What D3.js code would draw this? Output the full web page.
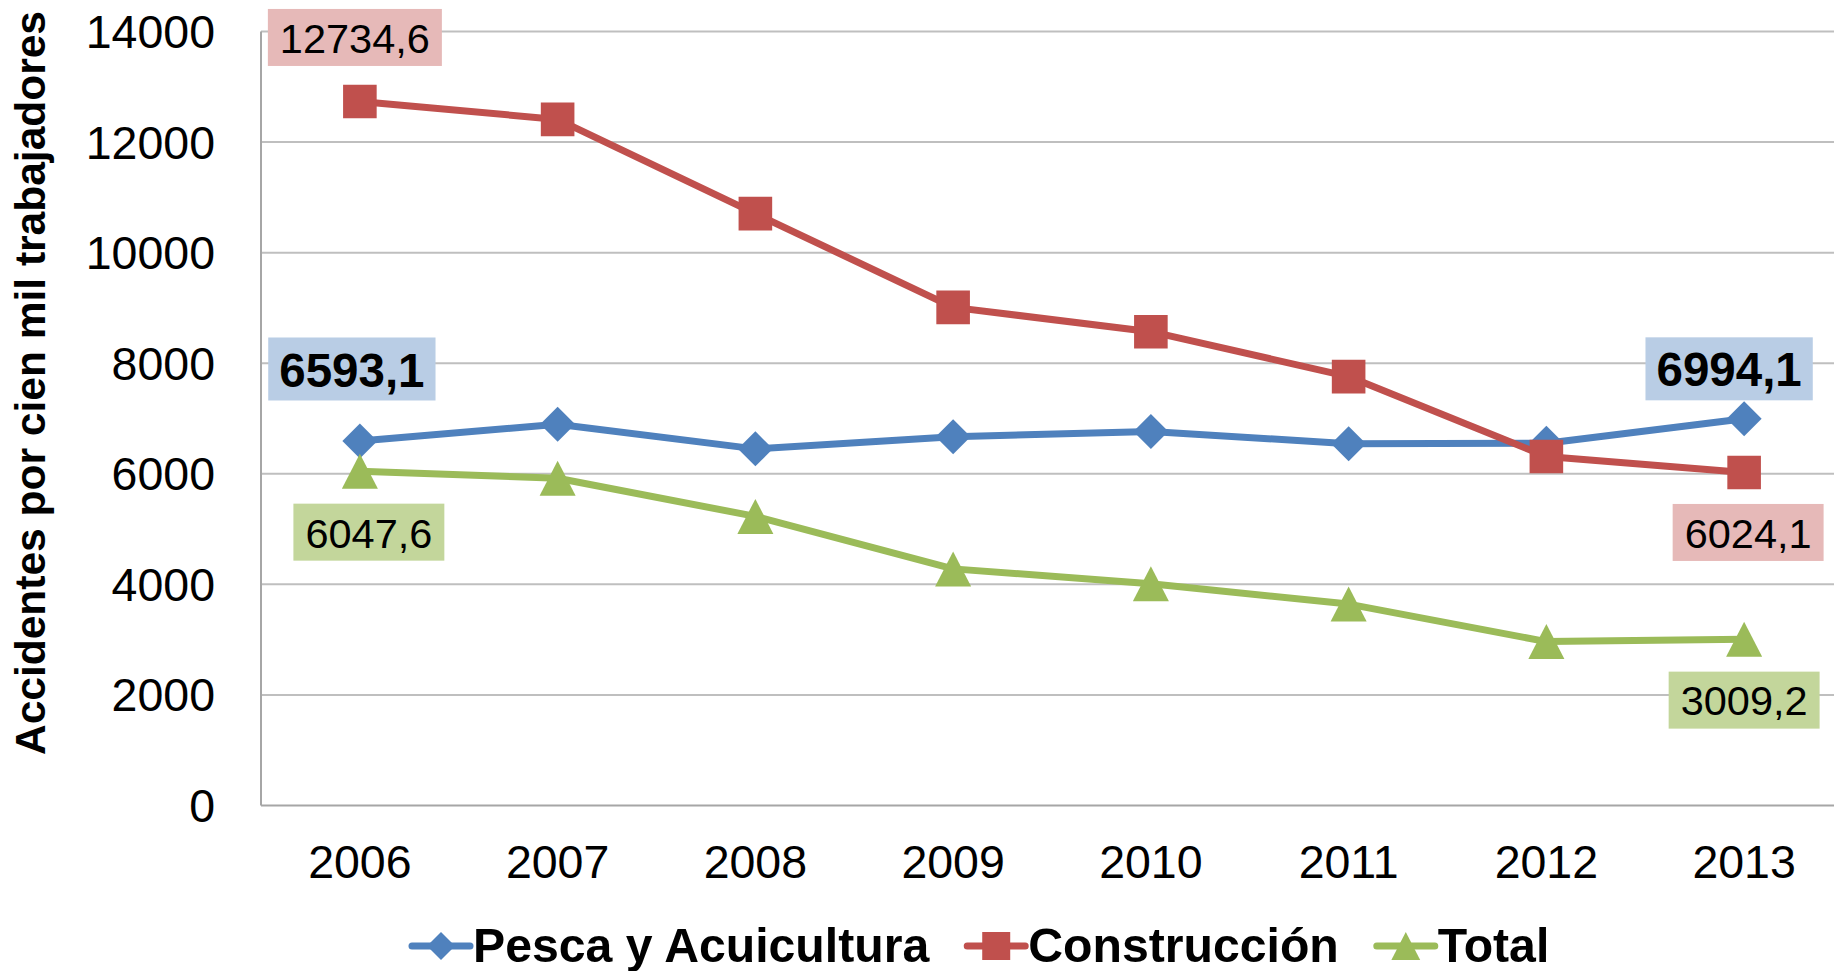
<!DOCTYPE html>
<html>
<head>
<meta charset="utf-8">
<script src="https://cdn.jsdelivr.net/npm/d3@7"></script>
<style>
  body { margin: 0; background: #fff; }
  svg { display: block; font-family: "Liberation Sans", Arial, sans-serif; }
</style>
</head>
<body>
<svg id="chart" width="1834" height="971"></svg>
<script>
// values
const years = ["2006", "2007", "2008", "2009", "2010", "2011", "2012", "2013"];
const pesca = [6593.1, 6897, 6451, 6670, 6763, 6545, 6552, 6994.1];
const construccion = [12734.6, 12410, 10705, 9010, 8570, 7758, 6312, 6024.1];
const total = [6047.6, 5919, 5229, 4280, 4012, 3643, 2965, 3009.2];
const yTicks = [0, 2000, 4000, 6000, 8000, 10000, 12000, 14000];
const seriesNames = ["Pesca y Acuicultura", "Construcción", "Total"];
const yTitle = "Accidentes por cien mil trabajadores";

// which points carry a value label (series index, year index)
const labelPoints = [[0, 0], [0, 7], [1, 0], [1, 7], [2, 0], [2, 7]];

// look
const colors = ["#4F81BD", "#C0504D", "#9BBB59"];
const labelFills = ["#B9CDE5", "#E6B9B8", "#C3D69B"];
const shapes = ["diamond", "square", "triangle"];
// label box centre offsets from the point, and bold flag
const labelLayout = {
    "0-0": {dx: -8, dy: -72, bold: true},
    "0-7": {dx: -15, dy: -50, bold: true},
    "1-0": {dx: -5, dy: -64, bold: false},
    "1-7": {dx: 4, dy: 60, bold: false},
    "2-0": {dx: 9, dy: 61, bold: false},
    "2-7": {dx: 0, dy: 61, bold: false}
};

let svg = d3.select("#chart"),
    width = +svg.attr("width"),
    height = +svg.attr("height");

const plotLeft = 261, plotRight = 1843, plotTop = 31.5, plotBottom = 805.5;

let x = d3.scaleBand().domain(years).range([plotLeft, plotRight]);
let y = d3.scaleLinear().domain([0, 14000]).range([plotBottom, plotTop]);
let xc = d => x(d) + x.bandwidth() / 2;

let fmt = d3.formatLocale({decimal: ",", thousands: ".", grouping: [3], currency: ["", ""]}).format(".1f");

// marker path centred on 0,0
function markerPath(shape, s) {
    let p = d3.path();
    if (shape === "diamond") {
        p.moveTo(0, -s); p.lineTo(s, 0); p.lineTo(0, s); p.lineTo(-s, 0); p.closePath();
    } else if (shape === "square") {
        p.rect(-s, -s, 2 * s, 2 * s);
    } else {
        p.moveTo(0, -s); p.lineTo(s * 1.03, s); p.lineTo(-s * 1.03, s); p.closePath();
    }
    return p.toString();
}

// gridlines
svg.append("g").attr("class", "grid")
    .selectAll("line")
    .data(yTicks.filter(d => d > 0))
    .enter().append("line")
    .attr("x1", plotLeft).attr("x2", plotRight)
    .attr("y1", d => y(d)).attr("y2", d => y(d))
    .attr("stroke", "#BFBFBF").attr("stroke-width", 2);

// axes lines
svg.append("line")
    .attr("x1", plotLeft).attr("x2", plotLeft)
    .attr("y1", plotTop).attr("y2", plotBottom)
    .attr("stroke", "#A6A6A6").attr("stroke-width", 2);
svg.append("line")
    .attr("x1", plotLeft).attr("x2", plotRight)
    .attr("y1", plotBottom).attr("y2", plotBottom)
    .attr("stroke", "#A6A6A6").attr("stroke-width", 2);

// y tick labels
svg.append("g").selectAll("text")
    .data(yTicks)
    .enter().append("text")
    .attr("x", 215)
    .attr("y", d => y(d) + 16.5)
    .attr("text-anchor", "end")
    .attr("font-size", 46.5)
    .attr("fill", "#000")
    .text(d => d);

// x tick labels
svg.append("g").selectAll("text")
    .data(years)
    .enter().append("text")
    .attr("x", d => xc(d))
    .attr("y", 878)
    .attr("text-anchor", "middle")
    .attr("font-size", 46.5)
    .attr("fill", "#000")
    .text(d => d);

// y axis title
svg.append("text")
    .attr("transform", "translate(45, 383) rotate(-90)")
    .attr("text-anchor", "middle")
    .attr("font-size", 42.5)
    .attr("font-weight", "bold")
    .attr("fill", "#000")
    .text(yTitle);

let allSeries = [pesca, construccion, total];

let line = d3.line()
    .x((d, i) => xc(years[i]))
    .y(d => y(d));

let seriesGroup = svg.append("g").attr("class", "series");

allSeries.forEach((vals, si) => {
    let g = seriesGroup.append("g");
    g.append("path")
        .datum(vals)
        .attr("d", line)
        .attr("fill", "none")
        .attr("stroke", colors[si])
        .attr("stroke-width", 7)
        .attr("stroke-linejoin", "round")
        .attr("stroke-linecap", "round");

    g.selectAll("path.marker")
        .data(vals)
        .enter().append("path")
        .attr("class", "marker")
        .attr("transform", (d, i) => "translate(" + xc(years[i]) + "," + y(d) + ")")
        .attr("d", markerPath(shapes[si], si === 1 ? 16.8 : 17.5))
        .attr("fill", colors[si]);
});

// value labels
let labelGroup = svg.append("g").attr("class", "labels");
labelPoints.forEach(([si, yi]) => {
    let v = allSeries[si][yi];
    let lay = labelLayout[si + "-" + yi];
    let cx = xc(years[yi]) + lay.dx,
        cy = y(v) + lay.dy;
    let fs = lay.bold ? 47.5 : 41.5;
    let g = labelGroup.append("g");
    let rect = g.append("rect").attr("fill", labelFills[si]);
    let t = g.append("text")
        .attr("x", cx)
        .attr("y", cy + fs * 0.37)
        .attr("text-anchor", "middle")
        .attr("font-size", fs)
        .attr("font-weight", lay.bold ? "bold" : "normal")
        .attr("fill", "#000")
        .text(fmt(v));
    let w = t.node().getComputedTextLength() + (lay.bold ? 22 : 24);
    let h = lay.bold ? 63 : 57;
    rect.attr("x", cx - w / 2).attr("y", cy - h / 2).attr("width", w).attr("height", h);
});

// legend
let legend = svg.append("g").attr("class", "legend");
let lx = 412;
const legendY = 946;
seriesNames.forEach((name, si) => {
    let g = legend.append("g");
    g.append("line")
        .attr("x1", lx).attr("x2", lx + 58)
        .attr("y1", legendY).attr("y2", legendY)
        .attr("stroke", colors[si]).attr("stroke-width", 7)
        .attr("stroke-linecap", "round");
    g.append("path")
        .attr("transform", "translate(" + (lx + 29) + "," + legendY + ")")
        .attr("d", markerPath(shapes[si], 14))
        .attr("fill", colors[si]);
    let t = g.append("text")
        .attr("x", lx + 61)
        .attr("y", legendY + 16)
        .attr("font-size", 48.2)
        .attr("font-weight", "bold")
        .attr("fill", "#000")
        .text(name);
    lx += 61 + t.node().getComputedTextLength() + 38;
});
</script>
</body>
</html>
